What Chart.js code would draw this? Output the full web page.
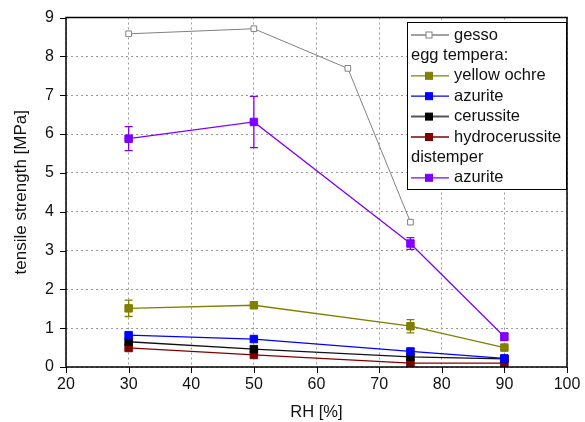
<!DOCTYPE html>
<html>
<head>
<meta charset="utf-8">
<script src="https://cdn.jsdelivr.net/npm/chart.js@4/dist/chart.umd.min.js"></script>
<style>
  html, body { margin: 0; padding: 0; background: #fff; }
  #wrap { width: 585px; height: 422px; }
</style>
</head>
<body>
<div id="wrap"><canvas id="c" width="585" height="422"></canvas></div>
<script>
// Relative humidity levels [%]
const rhGesso = [30, 50, 65, 75];
const rhSamples = [30, 50, 75, 90];

// Tensile strength [MPa]
const gesso = [8.58, 8.71, 7.69, 3.73];
const yellowOchre = [1.51, 1.59, 1.05, 0.50];
const azuriteEgg = [0.82, 0.72, 0.40, 0.22];
const cerussite = [0.65, 0.46, 0.26, 0.21];
const hydrocerussite = [0.49, 0.31, 0.10, 0.10];
const azuriteDistemper = [5.88, 6.31, 3.18, 0.78];

// Standard deviations
const yellowOchreErr = [0.21, 0, 0.17, 0];
const azuriteDistemperErr = [0.31, 0.66, 0.15, 0.10];

// Axis ticks
const xTicks = [20, 30, 40, 50, 60, 70, 80, 90, 100];
const yTicks = [0, 1, 2, 3, 4, 5, 6, 7, 8, 9];

// Legend rows: a string is a group heading, a number a dataset index
const legendRows = ['gesso', 'egg tempera:', 0, 1, 2, 3, 'distemper', 4];

const FONT = '"Liberation Sans", Arial, sans-serif';

function pts(xs, ys) { return xs.map((x, i) => ({ x: x, y: ys[i] })); }

function series(label, xs, ys, color, lineColor, opts) {
  return Object.assign({
    label: label,
    data: pts(xs, ys),
    borderColor: lineColor || color,
    backgroundColor: color,
    pointBackgroundColor: color,
    pointBorderColor: color,
    pointStyle: 'rect',
    pointRadius: 5.3,
    pointBorderWidth: 1,
    borderWidth: 1.3,
    tension: 0,
    fill: false
  }, opts || {});
}

const datasets = [
  series('yellow ochre', rhSamples, yellowOchre, '#808000', null, { errors: yellowOchreErr }),
  series('azurite', rhSamples, azuriteEgg, '#0000ff'),
  series('cerussite', rhSamples, cerussite, '#000000', '#111111'),
  series('hydrocerussite', rhSamples, hydrocerussite, '#800000'),
  series('azurite', rhSamples, azuriteDistemper, '#8000ff', null, { errors: azuriteDistemperErr }),
  series('gesso', rhGesso, gesso, '#808080', null, {
    pointBackgroundColor: '#ffffff', pointRadius: 4, borderWidth: 1
  })
];
const gessoIndex = 5;

// Error bars, frame, axis ticks and legend
const extras = {
  id: 'extras',
  afterDatasetsDraw(chart) {
    const ctx = chart.ctx, xs = chart.scales.x, ys = chart.scales.y;
    ctx.save();
    chart.data.datasets.forEach(ds => {
      if (!ds.errors) return;
      ctx.strokeStyle = ds.borderColor;
      ctx.lineWidth = 1.3;
      ds.data.forEach((p, i) => {
        const e = ds.errors[i];
        if (!e) return;
        const px = xs.getPixelForValue(p.x);
        const top = ys.getPixelForValue(p.y + e);
        const bot = ys.getPixelForValue(p.y - e);
        ctx.beginPath();
        ctx.moveTo(px, top); ctx.lineTo(px, bot);
        ctx.moveTo(px - 4, top); ctx.lineTo(px + 4, top);
        ctx.moveTo(px - 4, bot); ctx.lineTo(px + 4, bot);
        ctx.stroke();
      });
    });
    ctx.restore();
  },
  afterDraw(chart) {
    const ctx = chart.ctx, a = chart.chartArea;
    const xs = chart.scales.x, ys = chart.scales.y;
    ctx.save();
    // frame
    ctx.strokeStyle = '#000';
    ctx.lineWidth = 1.5;
    ctx.strokeRect(a.left, a.top, a.right - a.left, a.bottom - a.top);
    // tick marks
    ctx.lineWidth = 1;
    ctx.beginPath();
    xTicks.forEach(v => {
      const px = Math.round(xs.getPixelForValue(v)) + 0.5;
      ctx.moveTo(px, a.bottom); ctx.lineTo(px, a.bottom + 6);
    });
    yTicks.forEach(v => {
      const py = Math.round(ys.getPixelForValue(v)) + 0.5;
      ctx.moveTo(a.left - 6, py); ctx.lineTo(a.left, py);
    });
    ctx.stroke();

    // legend
    const bx = 407, by = 22, bw = 159, bh = 167;
    ctx.fillStyle = '#fff';
    ctx.fillRect(bx, by, bw, bh);
    ctx.strokeStyle = '#000';
    ctx.lineWidth = 1;
    ctx.strokeRect(bx + 0.5, by + 0.5, bw, bh);
    ctx.font = '16.5px ' + FONT;
    ctx.textBaseline = 'middle';
    ctx.textAlign = 'left';
    const rowH = 20.4;
    legendRows.forEach((row, r) => {
      const cy = by + 13 + r * rowH;
      let ds = null, label = row;
      if (row === 'gesso') { ds = chart.data.datasets[gessoIndex]; }
      else if (typeof row === 'number') { ds = chart.data.datasets[row]; label = ds.label; }
      ctx.fillStyle = '#111';
      if (!ds) { ctx.fillText(label, bx + 4, cy); return; }
      ctx.strokeStyle = ds.borderColor;
      ctx.lineWidth = ds === chart.data.datasets[2] ? 2 : 1.3;
      if (ds === chart.data.datasets[2]) ctx.strokeStyle = '#555';
      ctx.beginPath();
      ctx.moveTo(bx + 4, cy); ctx.lineTo(bx + 42, cy);
      ctx.stroke();
      const s = ds === chart.data.datasets[gessoIndex] ? 3 : 3.5;
      ctx.fillStyle = ds.pointBackgroundColor;
      ctx.fillRect(bx + 22 - s, cy - s, 2 * s, 2 * s);
      ctx.strokeStyle = ds.pointBorderColor;
      ctx.lineWidth = 1;
      ctx.strokeRect(bx + 22 - s, cy - s, 2 * s, 2 * s);
      ctx.fillStyle = '#111';
      ctx.fillText(label, bx + 47, cy);
    });
    ctx.restore();
  }
};

new Chart(document.getElementById('c'), {
  type: 'line',
  data: { datasets: datasets },
  plugins: [extras],
  options: {
    responsive: false,
    animation: false,
    layout: { padding: { top: 17.5, right: 18, left: 0, bottom: 0 } },
    plugins: { legend: { display: false }, tooltip: { enabled: false } },
    scales: {
      x: {
        type: 'linear',
        min: 20, max: 100,
        afterBuildTicks: s => { s.ticks = xTicks.map(v => ({ value: v })); },
        afterFit: s => { s.height = 55; s.paddingLeft = 0; s.paddingRight = 0; },
        ticks: { color: '#111', font: { family: FONT, size: 16 }, padding: 8, maxRotation: 0 },
        grid: { color: '#999', lineWidth: 1, drawTicks: false },
        border: { display: false, dash: [2, 3] },
        title: { display: true, text: 'RH [%]', color: '#111', font: { family: FONT, size: 16.5 }, padding: { top: 0, bottom: 0 } }
      },
      y: {
        type: 'linear',
        min: 0, max: 9,
        afterBuildTicks: s => { s.ticks = yTicks.map(v => ({ value: v })); },
        afterFit: s => { s.width = 66; s.paddingTop = 0; s.paddingBottom = 0; },
        ticks: { color: '#111', font: { family: FONT, size: 16 }, padding: 12 },
        grid: { color: '#999', lineWidth: 1, drawTicks: false },
        border: { display: false, dash: [2, 3] },
        title: { display: true, text: 'tensile strength [MPa]', color: '#111', font: { family: FONT, size: 17 }, padding: { top: 11, bottom: 0 } }
      }
    }
  }
});
</script>
</body>
</html>
